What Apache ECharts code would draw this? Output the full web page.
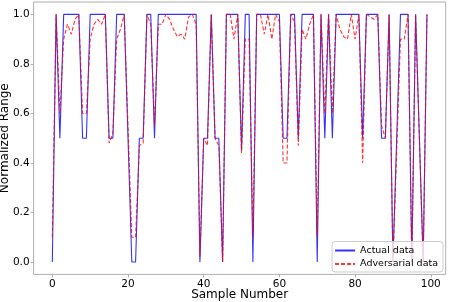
<!DOCTYPE html>
<html><head><meta charset="utf-8">
<script src="https://cdn.jsdelivr.net/npm/echarts@6/dist/echarts.min.js"></script>
<style>html,body{margin:0;padding:0;background:#fff}#c{width:449px;height:302px}</style>
</head><body><div id="c"></div>
<script>
var actual = [0,1,0.5,1,1,1,1,1,0.5,0.5, 1,1,1,1,1,0.5,0.5,1,1,1, 0.5,0,0,0.5,0.5,1,1,0.5,1,1, 1,1,1,1,1,1,1,1,1,0, 0.5,0.5,1,0.5,0.5,0,1,1,1,1, 0.45,1,1,0,1,1,1,1,1,1, 1,0.5,0.5,1,1,0.5,1,1,1,1, 0,1,0.5,1,0.5,1,1,1,1,1, 1,1,0.5,1,1,1,1,0.5,0.5,1, 0,0.5,1,1,1,0,1,0.5,0,1];
var adversarial = [0.1,1,0.6,0.9,0.96,0.92,0.98,1,0.6,0.6, 0.9,0.96,0.98,0.96,1,0.48,0.52,0.9,0.94,1, 0.55,0.1,0.1,0.47,0.48,1,0.96,0.55,0.96,0.96, 1,0.98,0.94,0.91,0.92,0.9,0.99,1,0.96,0.02, 0.5,0.47,1,0.5,0.47,0,1,1,0.9,1, 0.44,0.9,0.9,0.1,1,1,0.92,1,0.9,1, 0.97,0.4,0.4,1,0.97,0.47,0.94,0.9,0.96,1, 0.1,1,0.6,1,0.6,1,0.94,0.91,0.9,1, 0.9,1,0.4,1,0.99,0.98,1,0.55,0.5,1, 0,0.45,0.9,0.9,1,0,1,0.5,0,1];
var xTicks = [0,20,40,60,80,100];
var yTicks = [0,0.2,0.4,0.6,0.8,1.0];
var seriesNames = ['Actual data','Adversarial data'];

var pairs = function(arr){ return arr.map(function(v,i){ return [i,v]; }); };
var font = 'DejaVu Sans';
var chart = echarts.init(document.getElementById('c'), null, {renderer:'canvas'});
chart.setOption({
  animation:false,
  backgroundColor:'#fff',
  grid:{left:33.6,right:3.3,top:2,bottom:27.6,containLabel:false,outerBoundsMode:'none',
    show:true,borderColor:'#b0b0b0',borderWidth:1,backgroundColor:'transparent'},
  xAxis:{type:'value',min:-4.95,max:103.95,position:'bottom',
    name:'Sample Number',nameLocation:'middle',nameGap:14.5,nameMoveOverlap:false,
    nameTextStyle:{fontFamily:font,fontSize:12,color:'#000'},
    axisLine:{show:false,onZero:false},splitLine:{show:false},
    axisTick:{show:true,length:3,customValues:xTicks,lineStyle:{color:'#b0b0b0'}},
    axisLabel:{customValues:xTicks,margin:4,fontFamily:font,fontSize:10.5,color:'#000'}},
  yAxis:{type:'value',min:-0.05,max:1.05,position:'left',
    name:'Normalized Range',nameLocation:'middle',nameGap:23,nameMoveOverlap:false,
    nameTextStyle:{fontFamily:font,fontSize:12,color:'#000'},
    axisLine:{show:false,onZero:false},splitLine:{show:false},
    axisTick:{show:true,length:3,customValues:yTicks,lineStyle:{color:'#b0b0b0'}},
    axisLabel:{customValues:yTicks,margin:4,fontFamily:font,fontSize:10.5,color:'#000',
      formatter:function(v){return v.toFixed(1);}}},
  legend:{orient:'vertical',right:6,bottom:30,
    itemWidth:20,itemHeight:10,itemGap:3.5,
    padding:[4,5,3,2],borderColor:'#cccccc',borderWidth:1,borderRadius:3,backgroundColor:'rgba(255,255,255,0.8)',
    itemStyle:{opacity:0},
    textStyle:{fontFamily:font,fontSize:9.5,color:'#000'},
    data:seriesNames},
  series:[
    {name:seriesNames[0],type:'line',data:pairs(actual),symbol:'none',
      lineStyle:{color:'#0000ff',width:1.1,opacity:0.8},itemStyle:{color:'#0000ff'},z:2},
    {name:seriesNames[1],type:'line',data:pairs(adversarial),symbol:'none',
      lineStyle:{color:'#ff0000',width:1.1,type:[4,2],opacity:0.8},itemStyle:{color:'#ff0000'},z:3}
  ]
});
</script></body></html>
